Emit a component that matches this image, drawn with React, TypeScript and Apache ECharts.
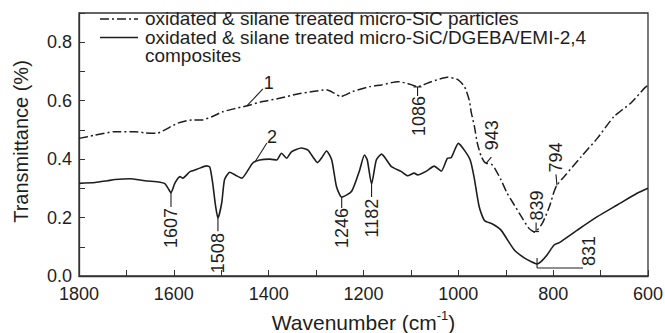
import React, { useEffect, useRef } from "react";
import * as echarts from "echarts";

// Curve 1: oxidated & silane treated micro-SiC particles (dash-dot)
const wave1 = [1800, 1766, 1724, 1682, 1661, 1636, 1619, 1592, 1562, 1541, 1520, 1497, 1476, 1447, 1413, 1377, 1341, 1307, 1278, 1261, 1248, 1223, 1187, 1162, 1128, 1107, 1086, 1057, 1023, 1002, 987, 977, 973, 966, 960, 952, 945, 941, 928, 910, 897, 882, 867, 851, 839, 823, 808, 798, 792, 777, 741, 707, 672, 636, 608, 600];
const trans1 = [0.471, 0.482, 0.494, 0.494, 0.49, 0.488, 0.5, 0.523, 0.534, 0.534, 0.545, 0.562, 0.571, 0.582, 0.597, 0.608, 0.622, 0.631, 0.637, 0.625, 0.614, 0.631, 0.648, 0.654, 0.665, 0.659, 0.648, 0.665, 0.68, 0.673, 0.648, 0.602, 0.562, 0.511, 0.455, 0.41, 0.39, 0.386, 0.38, 0.329, 0.283, 0.243, 0.203, 0.163, 0.15, 0.18, 0.237, 0.289, 0.311, 0.34, 0.408, 0.471, 0.545, 0.592, 0.642, 0.652];

// Curve 2: oxidated & silane treated micro-SiC/DGEBA/EMI-2,4 composites (solid)
const wave2 = [1800, 1766, 1740, 1724, 1693, 1661, 1629, 1619, 1612, 1606, 1598, 1587, 1581, 1566, 1550, 1531, 1524, 1518, 1512, 1507, 1499, 1493, 1482, 1470, 1457, 1434, 1419, 1398, 1383, 1373, 1362, 1352, 1331, 1317, 1307, 1297, 1288, 1278, 1267, 1257, 1246, 1225, 1208, 1198, 1192, 1183, 1173, 1162, 1141, 1120, 1107, 1093, 1086, 1067, 1051, 1036, 1023, 1015, 1000, 987, 975, 967, 956, 945, 928, 910, 882, 861, 845, 834, 825, 813, 798, 787, 749, 707, 665, 623, 600];
const trans2 = [0.317, 0.32, 0.326, 0.33, 0.333, 0.326, 0.321, 0.316, 0.3, 0.285, 0.317, 0.34, 0.335, 0.357, 0.366, 0.377, 0.372, 0.317, 0.24, 0.198, 0.25, 0.33, 0.355, 0.345, 0.335, 0.386, 0.397, 0.4, 0.397, 0.42, 0.403, 0.425, 0.438, 0.431, 0.408, 0.388, 0.405, 0.428, 0.397, 0.306, 0.27, 0.29, 0.363, 0.414, 0.397, 0.315, 0.397, 0.417, 0.374, 0.357, 0.343, 0.352, 0.346, 0.359, 0.376, 0.359, 0.403, 0.405, 0.454, 0.43, 0.397, 0.34, 0.237, 0.19, 0.178, 0.157, 0.089, 0.062, 0.048, 0.041, 0.05, 0.072, 0.106, 0.114, 0.157, 0.203, 0.243, 0.283, 0.3];

// Annotations: label text, anchor wavenumber, anchor transmittance
const annoLabels = ["1", "2", "1607", "1508", "1246", "1182", "1086", "943", "839", "794", "831"];
const annoWave = [1446, 1429, 1606, 1507, 1246, 1183, 1086, 941, 836, 792, 834];
const annoTrans = [0.582, 0.39, 0.284, 0.198, 0.27, 0.318, 0.647, 0.386, 0.152, 0.31, 0.041];

const legendLabels = [
  "oxidated & silane treated micro-SiC particles",
  "oxidated & silane treated micro-SiC/DGEBA/EMI-2,4",
  "composites",
];

const FONT = '"Liberation Sans", Arial, Helvetica, sans-serif';
const INK = "#1e1e1e";
const DASH_DOT = [9, 3, 2, 3];

// Layout of annotation leaders / text (pixel offsets from the anchor)
const annoLayout: { leaders: number[][][]; tx: number; ty: number; rot: number }[] = [
  { leaders: [[[0, 0], [16, -17]]], tx: 22, ty: -23, rot: 0 },
  { leaders: [[[0, 0], [12, -19]]], tx: 17, ty: -25, rot: 0 },
  { leaders: [[[0, 0], [0, 14]]], tx: 0, ty: 35, rot: 90 },
  { leaders: [[[0, 0], [0, 13]]], tx: 0, ty: 35, rot: 90 },
  { leaders: [[[0, 0], [0, 11]]], tx: 0, ty: 31, rot: 90 },
  { leaders: [[[0, 0], [0, 14]]], tx: 0, ty: 35, rot: 90 },
  { leaders: [[[-4, 0], [4, 0]], [[0, 0], [0, 9]]], tx: 1, ty: 29, rot: 90 },
  { leaders: [[[0, 0], [5, -6]]], tx: 6, ty: -28, rot: 90 },
  { leaders: [[[-3, 0], [3, 0]], [[0, 0], [0, -9]]], tx: 1, ty: -26, rot: 90 },
  { leaders: [[[0, 0], [-1, -11]]], tx: -1, ty: -28, rot: 90 },
  { leaders: [[[0, -6], [0, 4]], [[0, 4], [46, 4]]], tx: 52, ty: -13, rot: 90 },
];

const legendRowsY = [19, 37.5, 56];

export default function App() {
  const ref = useRef<HTMLDivElement>(null);

  useEffect(() => {
    if (!ref.current) return;
    const chart = echarts.init(ref.current, null, { renderer: "svg" });

    const legendText = (text: string, y: number) => ({
      type: "text",
      x: 145,
      y,
      scaleX: 1.055,
      style: { text, font: `18px ${FONT}`, fill: INK, verticalAlign: "middle" },
    });

    const option: any = {
      animation: false,
      backgroundColor: "#ffffff",
      grid: {
        left: 79,
        right: 17,
        top: 13,
        bottom: 57,
        show: true,
        borderColor: "#333",
        borderWidth: 1.3,
        backgroundColor: "transparent",
        containLabel: false,
        outerBoundsMode: "none",
      },
      xAxis: {
        type: "value",
        inverse: true,
        min: 600,
        max: 1800,
        interval: 100,
        name: "{a|Wavenumber (cm}{s|-1}{a|)}",
        nameLocation: "middle",
        nameGap: 33,
        nameTextStyle: {
          rich: {
            a: { fontSize: 21, fontFamily: FONT, color: INK, lineHeight: 26 },
            s: { fontSize: 13, fontFamily: FONT, color: INK, lineHeight: 26, verticalAlign: "top" },
          },
        },
        axisLine: { lineStyle: { color: "#333", width: 1.3 } },
        axisTick: { inside: true, length: 6, lineStyle: { color: "#333" } },
        splitLine: { show: false },
        axisLabel: {
          fontSize: 18,
          fontFamily: FONT,
          color: INK,
          lineHeight: 14,
          margin: 11,
          formatter: (v: number) => (Math.round(v) % 200 === 0 ? String(v) : ""),
        },
      },
      yAxis: {
        type: "value",
        min: 0,
        max: 0.9,
        interval: 0.1,
        name: "Transmittance (%)",
        nameLocation: "middle",
        nameGap: 48,
        nameTextStyle: { fontSize: 20, fontFamily: FONT, color: INK, padding: [0, 0, 0, 6] },
        axisLine: { show: true, lineStyle: { color: "#333", width: 1.3 } },
        axisTick: { show: true, inside: true, length: 6, lineStyle: { color: "#333" } },
        splitLine: { show: false },
        axisLabel: {
          fontSize: 18,
          fontFamily: FONT,
          color: INK,
          lineHeight: 14,
          margin: 7,
          formatter: (v: number) => {
            const k = Math.round(v * 10);
            return k % 2 === 0 && k <= 8 ? v.toFixed(1) : "";
          },
        },
      },
      graphic: [
        {
          type: "line",
          shape: { x1: 100, y1: legendRowsY[0], x2: 138, y2: legendRowsY[0] },
          style: { stroke: INK, lineWidth: 1.5, lineDash: DASH_DOT },
        },
        legendText(legendLabels[0], legendRowsY[0]),
        {
          type: "line",
          shape: { x1: 100, y1: legendRowsY[1], x2: 138, y2: legendRowsY[1] },
          style: { stroke: INK, lineWidth: 1.7 },
        },
        legendText(legendLabels[1], legendRowsY[1]),
        legendText(legendLabels[2], legendRowsY[2]),
      ],
      series: [
        {
          type: "line",
          name: legendLabels[0],
          data: wave1.map((w, i) => [w, trans1[i]]),
          symbol: "none",
          showSymbol: false,
          smooth: 0.2,
          lineStyle: { color: INK, width: 1.5, type: DASH_DOT },
          z: 3,
        },
        {
          type: "line",
          name: legendLabels[1] + " composites",
          data: wave2.map((w, i) => [w, trans2[i]]),
          symbol: "none",
          showSymbol: false,
          smooth: 0.2,
          lineStyle: { color: INK, width: 1.6 },
          z: 3,
        },
        {
          type: "custom",
          name: "annotations",
          silent: true,
          clip: false,
          z: 5,
          data: annoWave.map((w, i) => [w, annoTrans[i]]),
          encode: { x: 0, y: 1 },
          renderItem: (params: any, api: any) => {
            const i = params.dataIndex;
            const p = api.coord([api.value(0), api.value(1)]);
            const L = annoLayout[i];
            const children: any[] = L.leaders.map((seg) => ({
              type: "polyline",
              shape: { points: seg.map(([dx, dy]) => [p[0] + dx, p[1] + dy]) },
              style: { stroke: INK, lineWidth: 1.1, fill: "none" },
            }));
            children.push({
              type: "text",
              x: p[0] + L.tx,
              y: p[1] + L.ty,
              rotation: (L.rot * Math.PI) / 180,
              style: {
                text: annoLabels[i],
                font: `18px ${FONT}`,
                fill: INK,
                align: "center",
                verticalAlign: "middle",
              },
            });
            return { type: "group", children };
          },
        },
      ],
    };

    chart.setOption(option);
    return () => chart.dispose();
  }, []);

  return (
    <div
      ref={ref}
      style={{ position: "fixed", left: 0, top: 0, width: 665, height: 333, background: "#fff" }}
    />
  );
}
